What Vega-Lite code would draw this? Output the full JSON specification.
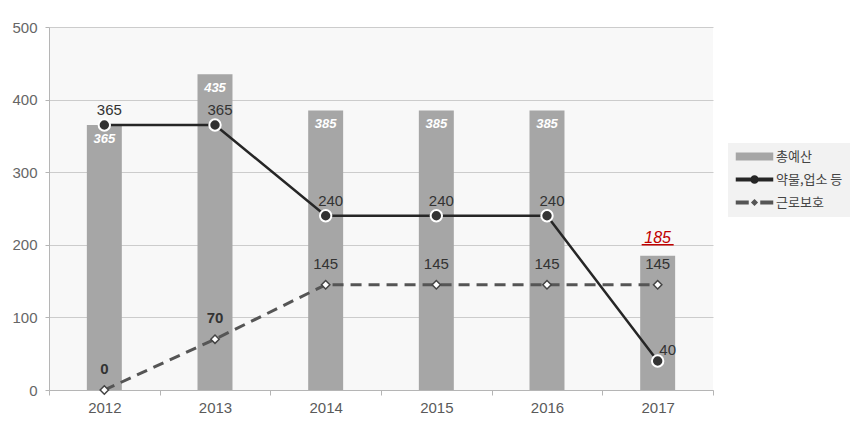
{
  "$schema": "https://vega.github.io/schema/vega-lite/v6.json",
  "autosize": {"type": "none"},
  "padding": {"left": 49, "top": 27, "right": 147, "bottom": 31},
  "width": 664,
  "height": 363,
  "background": "#ffffff",
  "config": {
    "view": {"fill": "#f8f8f8", "stroke": null},
    "font": "Liberation Sans",
    "axis": {"labelFont": "Liberation Sans", "labelFontSize": 15, "labelColor": "#5a5a5a", "domainColor": "#b5b5b5", "tickColor": "#b5b5b5", "title": null}
  },
  "data": {
    "values": [
      {"year": "2012", "total": 365, "drug": 365, "labor": 0},
      {"year": "2013", "total": 435, "drug": 365, "labor": 70},
      {"year": "2014", "total": 385, "drug": 240, "labor": 145},
      {"year": "2015", "total": 385, "drug": 240, "labor": 145},
      {"year": "2016", "total": 385, "drug": 240, "labor": 145},
      {"year": "2017", "total": 185, "drug": 40, "labor": 145}
    ]
  },
  "encoding": {
    "x": {
      "field": "year", "type": "nominal",
      "scale": {"paddingInner": 0, "paddingOuter": 0},
      "axis": {"labelAngle": 0, "tickBand": "extent", "tickSize": 5, "labelPadding": 5, "grid": false}
    }
  },
  "layer": [
    {
      "mark": {"type": "bar", "width": {"band": 0.316}},
      "encoding": {
        "y": {
          "field": "total", "type": "quantitative",
          "scale": {"domain": [0, 500]},
          "axis": {"values": [0, 100, 200, 300, 400, 500], "tickSize": 4, "labelPadding": 8, "gridColor": "#cccccc", "labelColor": "#666666"}
        },
        "color": {
          "datum": "총예산",
          "scale": {"domain": ["총예산", "약물,업소 등", "근로보호"], "range": ["#a6a6a6", "#262626", "#555555"]},
          "legend": {
            "title": null,
            "orient": "none",
            "legendX": 679,
            "legendY": 116,
            "fillColor": "#f2f2f2",
            "padding": 7,
            "rowPadding": 9,
            "symbolSize": 100,
            "labelOffset": 28,
            "labelFont": "Noto Sans CJK KR",
            "labelFontSize": 13,
            "labelColor": "#444444",
            "encode": {
              "symbols": {
                "update": {
                  "shape": {"signal": "datum.value === '총예산' ? 'M-1,-0.65H6.2V0.65H-1Z' : datum.value === '근로보호' ? 'M-1,-0.25H1.3V0.25H-1Z M3.9,-0.25H6.2V0.25H3.9Z M2.6,-0.5L3.1,0L2.6,0.5L2.1,0Z' : 'M-1,-0.25H6.2V0.25H-1Z M1.9,0A0.7,0.7 0 1,1 3.3,0A0.7,0.7 0 1,1 1.9,0Z'"},
                  "fill": {"signal": "datum.value === '총예산' ? '#a6a6a6' : datum.value === '근로보호' ? '#555555' : '#262626'"},
                  "stroke": {"value": "transparent"},
                  "strokeDash": {"value": []},
                  "opacity": {"value": 1}
                }
              }
            }
          }
        }
      }
    },
    {
      "mark": {"type": "line", "strokeWidth": 2.5},
      "encoding": {
        "y": {"field": "drug", "type": "quantitative"},
        "color": {"datum": "약물,업소 등"}
      }
    },
    {
      "mark": {"type": "line", "strokeWidth": 3, "strokeDash": [11, 7]},
      "encoding": {
        "y": {"field": "labor", "type": "quantitative"},
        "color": {"datum": "근로보호"}
      }
    },
    {
      "mark": {"type": "point", "shape": "circle", "filled": true, "size": 130, "fill": "#333333", "stroke": "#ffffff", "strokeWidth": 2, "opacity": 1},
      "encoding": {"y": {"field": "drug", "type": "quantitative"}}
    },
    {
      "mark": {"type": "point", "shape": "diamond", "filled": true, "size": 70, "fill": "#ffffff", "stroke": "#444444", "strokeWidth": 1.5, "opacity": 1},
      "encoding": {"y": {"field": "labor", "type": "quantitative"}}
    },
    {
      "transform": [{"filter": "datum.year !== '2017'"}],
      "mark": {"type": "text", "color": "#ffffff", "fontSize": 13, "fontStyle": "italic", "fontWeight": "bold", "baseline": "middle", "dy": 14},
      "encoding": {"y": {"field": "total", "type": "quantitative"}, "text": {"field": "total"}}
    },
    {
      "transform": [{"filter": "datum.year === '2017'"}],
      "mark": {"type": "text", "color": "#c00000", "fontSize": 16, "fontStyle": "italic", "baseline": "middle", "dy": -18},
      "encoding": {"y": {"field": "total", "type": "quantitative"}, "text": {"field": "total"}}
    },
    {
      "transform": [{"filter": "datum.year === '2017'"}],
      "mark": {"type": "tick", "orient": "horizontal", "size": 32, "thickness": 1.5, "yOffset": -11, "color": "#c00000", "opacity": 1},
      "encoding": {"y": {"field": "total", "type": "quantitative"}}
    },
    {
      "transform": [{"filter": "datum.year !== '2017'"}],
      "mark": {"type": "text", "color": "#333333", "fontSize": 15, "baseline": "middle", "dx": 5, "dy": -15},
      "encoding": {"y": {"field": "drug", "type": "quantitative"}, "text": {"field": "drug"}}
    },
    {
      "transform": [{"filter": "datum.year === '2017'"}],
      "mark": {"type": "text", "color": "#333333", "fontSize": 15, "baseline": "middle", "dx": 10, "dy": -11},
      "encoding": {"y": {"field": "drug", "type": "quantitative"}, "text": {"field": "drug"}}
    },
    {
      "transform": [{"filter": "datum.year === '2012' || datum.year === '2013'"}],
      "mark": {"type": "text", "color": "#333333", "fontSize": 15, "fontWeight": "bold", "baseline": "middle", "dy": -21},
      "encoding": {"y": {"field": "labor", "type": "quantitative"}, "text": {"field": "labor"}}
    },
    {
      "transform": [{"filter": "datum.year !== '2012' && datum.year !== '2013'"}],
      "mark": {"type": "text", "color": "#333333", "fontSize": 15, "baseline": "middle", "dy": -21},
      "encoding": {"y": {"field": "labor", "type": "quantitative"}, "text": {"field": "labor"}}
    }
  ]
}
